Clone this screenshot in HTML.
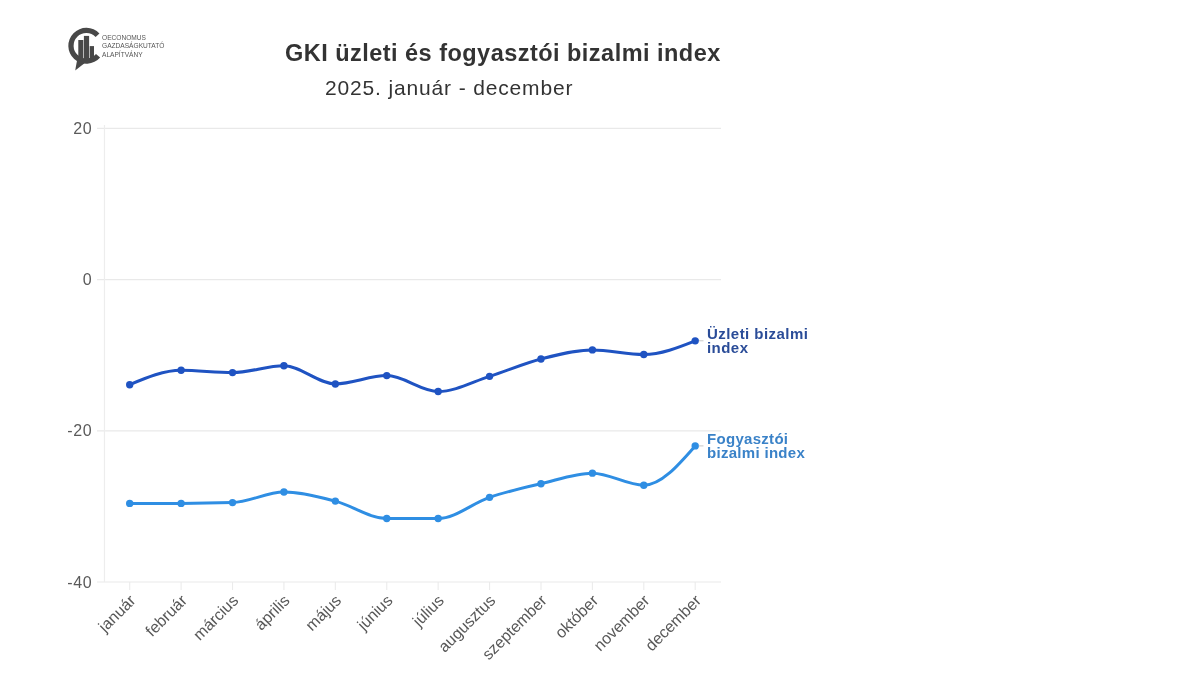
<!DOCTYPE html>
<html><head><meta charset="utf-8">
<style>
html,body{margin:0;padding:0;background:#fff;}
body{width:1200px;height:675px;overflow:hidden;font-family:"Liberation Sans",sans-serif;}
svg{display:block;will-change:transform;font-family:"Liberation Sans",sans-serif;}
</style></head><body>
<svg width="1200" height="675" viewBox="0 0 1200 675">
<line x1="97" y1="128.4" x2="721" y2="128.4" stroke="#e9e9e9" stroke-width="1.2"/>
<line x1="97" y1="279.6" x2="721" y2="279.6" stroke="#e9e9e9" stroke-width="1.2"/>
<line x1="97" y1="430.8" x2="721" y2="430.8" stroke="#e9e9e9" stroke-width="1.2"/>
<line x1="97" y1="582.0" x2="721" y2="582.0" stroke="#e9e9e9" stroke-width="1.2"/>
<line x1="104.5" y1="125" x2="104.5" y2="582" stroke="#ededed" stroke-width="1.2"/>
<text x="92.3" y="134.0" text-anchor="end" font-size="16" letter-spacing="0.6" fill="#5a5a5a">20</text>
<text x="92.3" y="285.20000000000005" text-anchor="end" font-size="16" letter-spacing="0.6" fill="#5a5a5a">0</text>
<text x="92.3" y="436.40000000000003" text-anchor="end" font-size="16" letter-spacing="0.6" fill="#5a5a5a">-20</text>
<text x="92.3" y="587.6" text-anchor="end" font-size="16" letter-spacing="0.6" fill="#5a5a5a">-40</text>
<line x1="129.70" y1="582" x2="129.70" y2="590" stroke="#ebebeb" stroke-width="1.1"/>
<line x1="181.11" y1="582" x2="181.11" y2="590" stroke="#ebebeb" stroke-width="1.1"/>
<line x1="232.52" y1="582" x2="232.52" y2="590" stroke="#ebebeb" stroke-width="1.1"/>
<line x1="283.93" y1="582" x2="283.93" y2="590" stroke="#ebebeb" stroke-width="1.1"/>
<line x1="335.34" y1="582" x2="335.34" y2="590" stroke="#ebebeb" stroke-width="1.1"/>
<line x1="386.75" y1="582" x2="386.75" y2="590" stroke="#ebebeb" stroke-width="1.1"/>
<line x1="438.16" y1="582" x2="438.16" y2="590" stroke="#ebebeb" stroke-width="1.1"/>
<line x1="489.57" y1="582" x2="489.57" y2="590" stroke="#ebebeb" stroke-width="1.1"/>
<line x1="540.98" y1="582" x2="540.98" y2="590" stroke="#ebebeb" stroke-width="1.1"/>
<line x1="592.39" y1="582" x2="592.39" y2="590" stroke="#ebebeb" stroke-width="1.1"/>
<line x1="643.80" y1="582" x2="643.80" y2="590" stroke="#ebebeb" stroke-width="1.1"/>
<line x1="695.21" y1="582" x2="695.21" y2="590" stroke="#ebebeb" stroke-width="1.1"/>
<text transform="translate(136.50,601.6) rotate(-45)" text-anchor="end" font-size="16" fill="#585858">január</text>
<text transform="translate(187.91,601.6) rotate(-45)" text-anchor="end" font-size="16" fill="#585858">február</text>
<text transform="translate(239.32,601.6) rotate(-45)" text-anchor="end" font-size="16" fill="#585858">március</text>
<text transform="translate(290.73,601.6) rotate(-45)" text-anchor="end" font-size="16" fill="#585858">április</text>
<text transform="translate(342.14,601.6) rotate(-45)" text-anchor="end" font-size="16" fill="#585858">május</text>
<text transform="translate(393.55,601.6) rotate(-45)" text-anchor="end" font-size="16" fill="#585858">június</text>
<text transform="translate(444.96,601.6) rotate(-45)" text-anchor="end" font-size="16" fill="#585858">július</text>
<text transform="translate(496.37,601.6) rotate(-45)" text-anchor="end" font-size="16" fill="#585858">augusztus</text>
<text transform="translate(547.78,601.6) rotate(-45)" text-anchor="end" font-size="16" fill="#585858">szeptember</text>
<text transform="translate(599.19,601.6) rotate(-45)" text-anchor="end" font-size="16" fill="#585858">október</text>
<text transform="translate(650.60,601.6) rotate(-45)" text-anchor="end" font-size="16" fill="#585858">november</text>
<text transform="translate(702.01,601.6) rotate(-45)" text-anchor="end" font-size="16" fill="#585858">december</text>
<path d="M129.70,384.68C146.84,377.50 163.97,370.32 181.11,370.32C198.25,370.32 215.38,372.59 232.52,372.59C249.66,372.59 266.79,365.78 283.93,365.78C301.07,365.78 318.20,383.93 335.34,383.93C352.48,383.93 369.61,375.61 386.75,375.61C403.89,375.61 421.02,391.49 438.16,391.49C455.30,391.49 472.43,381.79 489.57,376.37C506.71,370.95 523.84,363.39 540.98,358.98C558.12,354.57 575.25,349.91 592.39,349.91C609.53,349.91 626.66,354.44 643.80,354.44C660.94,354.44 678.07,347.64 695.21,340.84" fill="none" stroke="#1f53c2" stroke-width="3.0" stroke-linecap="round"/>
<path d="M129.70,503.38C146.84,503.38 163.97,503.38 181.11,503.38C198.25,503.38 215.38,503.12 232.52,502.62C249.66,502.12 266.79,492.04 283.93,492.04C301.07,492.04 318.20,496.70 335.34,501.11C352.48,505.52 369.61,518.50 386.75,518.50C403.89,518.50 421.02,518.50 438.16,518.50C455.30,518.50 472.43,503.12 489.57,497.33C506.71,491.53 523.84,487.75 540.98,483.72C558.12,479.69 575.25,473.14 592.39,473.14C609.53,473.14 626.66,485.23 643.80,485.23C660.94,485.23 678.07,465.58 695.21,445.92" fill="none" stroke="#2f8ee3" stroke-width="3.0" stroke-linecap="round"/>
<circle cx="129.70" cy="384.68" r="3.7" fill="#1f53c2"/>
<circle cx="181.11" cy="370.32" r="3.7" fill="#1f53c2"/>
<circle cx="232.52" cy="372.59" r="3.7" fill="#1f53c2"/>
<circle cx="283.93" cy="365.78" r="3.7" fill="#1f53c2"/>
<circle cx="335.34" cy="383.93" r="3.7" fill="#1f53c2"/>
<circle cx="386.75" cy="375.61" r="3.7" fill="#1f53c2"/>
<circle cx="438.16" cy="391.49" r="3.7" fill="#1f53c2"/>
<circle cx="489.57" cy="376.37" r="3.7" fill="#1f53c2"/>
<circle cx="540.98" cy="358.98" r="3.7" fill="#1f53c2"/>
<circle cx="592.39" cy="349.91" r="3.7" fill="#1f53c2"/>
<circle cx="643.80" cy="354.44" r="3.7" fill="#1f53c2"/>
<circle cx="695.21" cy="340.84" r="3.7" fill="#1f53c2"/>
<circle cx="129.70" cy="503.38" r="3.7" fill="#2f8ee3"/>
<circle cx="181.11" cy="503.38" r="3.7" fill="#2f8ee3"/>
<circle cx="232.52" cy="502.62" r="3.7" fill="#2f8ee3"/>
<circle cx="283.93" cy="492.04" r="3.7" fill="#2f8ee3"/>
<circle cx="335.34" cy="501.11" r="3.7" fill="#2f8ee3"/>
<circle cx="386.75" cy="518.50" r="3.7" fill="#2f8ee3"/>
<circle cx="438.16" cy="518.50" r="3.7" fill="#2f8ee3"/>
<circle cx="489.57" cy="497.33" r="3.7" fill="#2f8ee3"/>
<circle cx="540.98" cy="483.72" r="3.7" fill="#2f8ee3"/>
<circle cx="592.39" cy="473.14" r="3.7" fill="#2f8ee3"/>
<circle cx="643.80" cy="485.23" r="3.7" fill="#2f8ee3"/>
<circle cx="695.21" cy="445.92" r="3.7" fill="#2f8ee3"/>
<line x1="699" y1="340.8" x2="703.5" y2="340.8" stroke="#c8c8c8" stroke-width="1"/>
<line x1="699" y1="445.9" x2="703.5" y2="445.9" stroke="#c8c8c8" stroke-width="1"/>
<text x="707" y="339" font-size="15" letter-spacing="0.45" font-weight="bold" fill="#2a4c98">Üzleti bizalmi</text>
<text x="707" y="352.5" font-size="15" letter-spacing="0.45" font-weight="bold" fill="#2a4c98">index</text>
<text x="707" y="444" font-size="15" letter-spacing="0.3" font-weight="bold" fill="#3a82c8">Fogyasztói</text>
<text x="707" y="457.5" font-size="15" letter-spacing="0.3" font-weight="bold" fill="#3a82c8">bizalmi index</text>
<text x="285" y="61" font-size="23.5" letter-spacing="0.47" font-weight="bold" fill="#333">GKI üzleti és fogyasztói bizalmi index</text>
<text x="325" y="95" font-size="21" letter-spacing="0.85" fill="#333">2025. január - december</text>

<g fill="#484848">
  <path d="M99.46,33.5 A18,18 0 1 0 100.1,57.4 L96.0,53.96 A12.7,12.7 0 1 1 95.6,37.1 Z"/>
  <rect x="78.3" y="40" width="5" height="19.5"/>
  <rect x="83.9" y="35.9" width="5.2" height="23.6"/>
  <rect x="89.7" y="46.1" width="4.3" height="13.4"/>
  <path d="M77.2,59.5 L75.2,70.6 L84.5,63.2 Z"/>
</g>
<g font-size="6.6" fill="#555">
  <text x="102" y="39.6">OECONOMUS</text>
  <text x="102" y="48.2">GAZDASÁGKUTATÓ</text>
  <text x="102" y="57.2">ALAPÍTVÁNY</text>
</g>

</svg>
</body></html>
